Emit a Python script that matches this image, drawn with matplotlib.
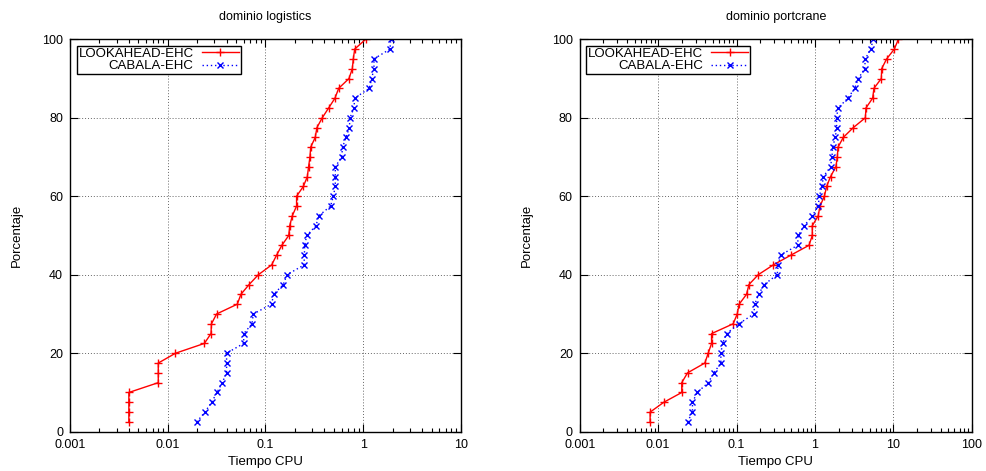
import numpy as np
import matplotlib
matplotlib.use("Agg")
import matplotlib.pyplot as plt
from matplotlib.ticker import LogLocator, FixedLocator, NullFormatter

# porcentaje de problemas resueltos (paso de 2.5)
porcentaje = [2.5 * (i + 1) for i in range(40)]

# dominio logistics
logistics_lookahead = [0.004, 0.004, 0.004, 0.004, 0.008, 0.008, 0.008, 0.012,
                       0.0237, 0.0277, 0.028, 0.0316, 0.0515, 0.056, 0.068, 0.0845,
                       0.1156, 0.13, 0.147, 0.173, 0.177, 0.188, 0.208, 0.208,
                       0.244, 0.268, 0.276, 0.285, 0.29, 0.323, 0.336, 0.381,
                       0.443, 0.514, 0.561, 0.715, 0.773, 0.792, 0.818, 1.06]
logistics_cabala = [0.0198, 0.024, 0.0281, 0.0319, 0.0361, 0.04, 0.04, 0.04,
                    0.0598, 0.06, 0.0728, 0.075, 0.1156, 0.121, 0.152, 0.166,
                    0.248, 0.25, 0.252, 0.264, 0.329, 0.35, 0.464, 0.494,
                    0.518, 0.518, 0.518, 0.601, 0.615, 0.666, 0.721, 0.733,
                    0.804, 0.818, 1.154, 1.22, 1.288, 1.288, 1.88, 1.91]

# dominio portcrane
portcrane_lookahead = [0.0079, 0.0079, 0.0118, 0.02, 0.02, 0.0237, 0.0394, 0.0435,
                       0.048, 0.048, 0.0906, 0.102, 0.108, 0.134, 0.144, 0.189,
                       0.294, 0.494, 0.84, 0.925, 0.925, 1.10, 1.16, 1.32,
                       1.41, 1.58, 1.85, 1.93, 1.97, 2.30, 3.09, 4.40,
                       4.48, 5.45, 5.66, 7.03, 7.10, 8.22, 10.3, 11.6]
portcrane_cabala = [0.0237, 0.0274, 0.0274, 0.0315, 0.0435, 0.0514, 0.0631, 0.0631,
                    0.0663, 0.0746, 0.107, 0.166, 0.171, 0.191, 0.225, 0.33,
                    0.34, 0.365, 0.601, 0.612, 0.731, 0.925, 1.10, 1.14,
                    1.23, 1.28, 1.58, 1.65, 1.68, 1.82, 1.89, 1.89,
                    1.97, 2.64, 3.21, 3.58, 4.31, 4.39, 5.14, 5.55]

plt.rcParams['font.family'] = ['Liberation Sans', 'DejaVu Sans']
plt.rcParams['font.size'] = 9


def dibujar(ax, lookahead, cabala, titulo, xmax):
    ax.plot(lookahead, porcentaje, color='#ff0000', linestyle='-', linewidth=1,
            marker='+', markersize=6, markeredgewidth=1, label='LOOKAHEAD-EHC')
    ax.plot(cabala, porcentaje, color='#0000ff', linestyle=(0, (1, 2)), linewidth=1,
            marker='x', markersize=5, markeredgewidth=1, label='CABALA-EHC')
    ax.set_xscale('log')
    ax.set_xlim(0.001, xmax)
    ax.set_ylim(0, 100)
    ax.xaxis.set_minor_locator(LogLocator(base=10, subs=np.arange(2, 10)))
    ax.xaxis.set_minor_formatter(NullFormatter())
    ticks = [10.0 ** k for k in range(-3, int(round(np.log10(xmax))) + 1)]
    ax.set_xticks(ticks)
    ax.set_xticklabels(['%g' % t for t in ticks])
    ax.yaxis.set_major_locator(FixedLocator([0, 20, 40, 60, 80, 100]))
    ax.tick_params(which='both', direction='in', top=True, right=True)
    ax.tick_params(which='major', length=6, width=0.8, pad=5)
    ax.tick_params(which='minor', length=3, width=0.8)
    ax.grid(True, which='major', color='#666666', linestyle=(0, (1, 2)), linewidth=0.7)
    for s in ax.spines.values():
        s.set_linewidth(1.0)
    ax.set_title(titulo, fontsize=9, pad=14)
    ax.set_xlabel('Tiempo CPU', fontsize=9.5, labelpad=4)
    ax.set_ylabel('Porcentaje', fontsize=9.5, labelpad=14)
    leg = ax.legend(loc='upper left', markerfirst=False, fancybox=False,
                    edgecolor='black', framealpha=1, fontsize=9.5,
                    borderpad=0.15, labelspacing=0.0, handlelength=2.8,
                    handletextpad=0.6, borderaxespad=0.5)
    leg.get_frame().set_linewidth(1.0)


fig = plt.figure(figsize=(9.86, 4.71), dpi=100)
ax1 = fig.add_axes([0.071, 0.0834, 0.3965, 0.8332])
ax2 = fig.add_axes([0.588, 0.0834, 0.3975, 0.8332])

dibujar(ax1, logistics_lookahead, logistics_cabala, 'dominio logistics', 10)
dibujar(ax2, portcrane_lookahead, portcrane_cabala, 'dominio portcrane', 100)

fig.savefig('out.png', dpi=100)
